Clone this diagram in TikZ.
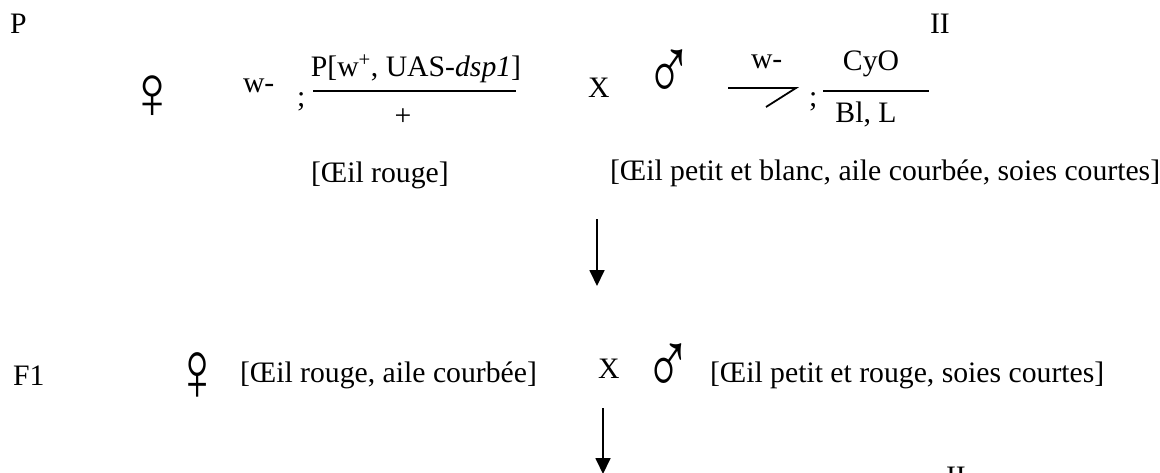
\documentclass[tikz,border=0pt]{standalone}
\usepackage{fontspec}
\setmainfont{Liberation Serif}
\usetikzlibrary{arrows.meta}
\tikzset{
  txt/.style={inner sep=0pt, outer sep=0pt, anchor=base west, font=\fontsize{29.7}{34}\selectfont},
  ctxt/.style={txt, anchor=base},
  sym/.style={inner sep=0pt, outer sep=0pt, font=\fontsize{76}{80}\selectfont, xscale=0.88},
  msym/.style={inner sep=0pt, outer sep=0pt, font=\fontsize{86}{90}\selectfont, xscale=0.74, yscale=1.05},
  bar/.style={line width=1.8pt},
  flow/.style={line width=1.8pt, -{Triangle[length=16pt,width=15pt]}}
}
\begin{document}
\begin{tikzpicture}[x=1pt,y=-1pt]
\useasboundingbox (0,0) rectangle (1160,472);
\clip (0,0) rectangle (1160,472);
% row P
\node[txt] (gP) at (10,33) {P};
\node[txt] (chrII) at (930,33) {II};
\node[sym] (fem1) at (153,97) {♀};
\node[txt] (wf) at (243,92) {w-};
\node[txt] (sc1) at (297,106) {;};
\node[ctxt] (num1) at (416,76) {P[w\textsuperscript{+}, UAS-\textit{dsp1}]};
\coordinate (b1l) at (313,91);
\coordinate (b1r) at (516,91);
\draw[bar] (b1l) -- (b1r);
\node[ctxt] (den1) at (403,125) {+};
\node[txt] (cross1) at (588,97) {X};
\node[msym] (mal1) at (669,75) {♂};
\node[txt] (wm) at (751,68) {w-};
\coordinate (y1) at (728,88);
\coordinate (y2) at (796,88);
\coordinate (y3) at (766,107);
\draw[bar] (y1) -- (y2) -- (y3);
\node[txt] (sc2) at (809,106) {;};
\node[ctxt] (num2) at (871,70) {CyO};
\coordinate (b2l) at (823,91);
\coordinate (b2r) at (929,91);
\draw[bar] (b2l) -- (b2r);
\node[ctxt] (den2) at (866,122) {Bl, L};
\node[txt] (ph1) at (311,182) {[Œil rouge]};
\node[txt] (ph2) at (610,180) {[Œil petit et blanc, aile courbée, soies courtes]};
\coordinate (a1s) at (597,219);
\coordinate (a1e) at (597,286);
\draw[flow] (a1s) -- (a1e);
% row F1
\node[txt] (gF1) at (13,385) {F1};
\node[sym, xscale=0.92, yscale=1.12] (fem2) at (198,377) {♀};
\node[txt] (ph3) at (240,382) {[Œil rouge, aile courbée]};
\node[txt] (cross2) at (598,378) {X};
\node[msym] (mal2) at (668,369) {♂};
\node[txt] (ph4) at (710,382) {[Œil petit et rouge, soies courtes]};
\coordinate (a2s) at (603,408);
\coordinate (a2e) at (603,474);
\draw[flow] (a2s) -- (a2e);
\node[txt, anchor=north west] (chrII2) at (946,467) {II};
\end{tikzpicture}
\end{document}
